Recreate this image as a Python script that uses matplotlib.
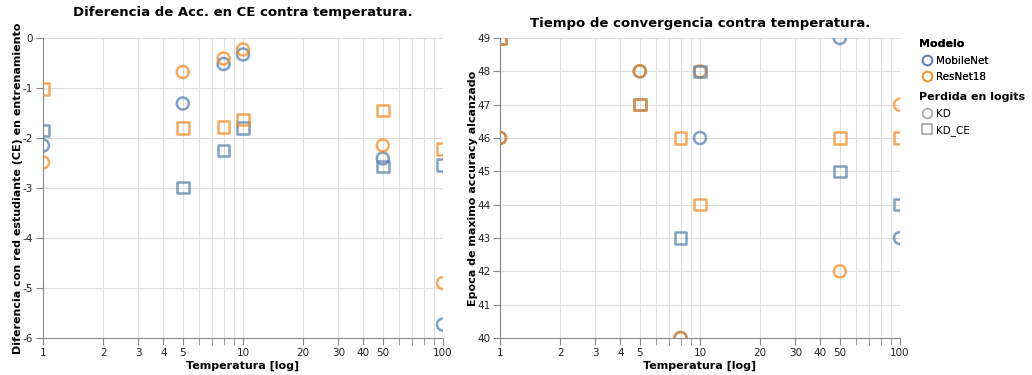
import matplotlib.pyplot as plt
from matplotlib.lines import Line2D
from matplotlib.ticker import FixedLocator, NullFormatter, FixedFormatter

temps = [1, 5, 8, 10, 50, 100]

# diferencia de accuracy (CE) contra temperatura
acc_mobilenet_kd = [-2.15, -1.31, -0.52, -0.33, -2.41, -5.73]
acc_resnet_kd = [-2.49, -0.68, -0.41, -0.23, -2.15, -4.9]
acc_mobilenet_kdce = [-1.85, -2.99, -2.25, -1.8, -2.57, -2.54]
acc_resnet_kdce = [-1.02, -1.8, -1.78, -1.63, -1.45, -2.22]

# epoca de maximo accuracy
ep_mobilenet_kd = [46, 48, 40, 46, 49, 43]
ep_resnet_kd = [46, 48, 40, 48, 42, 47]
ep_mobilenet_kdce = [49, 47, 43, 48, 45, 44]
ep_resnet_kdce = [49, 47, 46, 44, 46, 46]

blue = '#4c78a8'
orange = '#f58518'
W, H = 1032, 375

fig = plt.figure(figsize=(W / 100, H / 100), dpi=100)
plt.rcParams['font.family'] = 'DejaVu Sans'


def make_ax(x0):
    ax = fig.add_axes([x0 / W, (H - 338) / H, 400 / W, 300 / H])
    ax.set_xscale('log')
    ax.set_xlim(1, 100)
    major = [1, 2, 3, 4, 5, 10, 20, 30, 40, 50, 100]
    minor = [6, 7, 8, 9, 60, 70, 80, 90]
    ax.xaxis.set_major_locator(FixedLocator(major))
    ax.xaxis.set_major_formatter(FixedFormatter([str(v) for v in major]))
    ax.xaxis.set_minor_locator(FixedLocator(minor))
    ax.xaxis.set_minor_formatter(NullFormatter())
    ax.grid(True, which='both', color='#dddddd', linewidth=0.8)
    ax.set_axisbelow(True)
    for s in ['top', 'right']:
        ax.spines[s].set_visible(False)
    for s in ['left', 'bottom']:
        ax.spines[s].set_color('#888888')
    ax.tick_params(which='both', length=5, color='#888888', labelsize=7.5,
                   labelcolor='#222222', pad=2)
    ax.set_xlabel('Temperatura [log]', fontsize=8, fontweight='bold', labelpad=2)
    return ax


def scatter(ax, y, color, marker):
    sc = ax.scatter(temps, y, s=75 if marker == 'o' else 70, marker=marker,
                    facecolors='none', edgecolors=color, linewidths=1.8,
                    alpha=0.7, zorder=3, clip_on=True)
    sc.set_clip_path(ax.patch)


ax1 = make_ax(43)
ax1.set_ylim(-6, 0)
ax1.set_yticks(range(-6, 1))
ax1.set_yticklabels([str(v) for v in range(-6, 1)])
scatter(ax1, acc_mobilenet_kd, blue, 'o')
scatter(ax1, acc_resnet_kd, orange, 'o')
scatter(ax1, acc_mobilenet_kdce, blue, 's')
scatter(ax1, acc_resnet_kdce, orange, 's')
ax1.set_ylabel('Diferencia con red estudiante (CE) en entrenamiento',
               fontsize=8, fontweight='bold', labelpad=0)
ax1.set_title('Diferencia de Acc. en CE contra temperatura.', fontsize=9.5,
              fontweight='bold', pad=16)

ax2 = make_ax(500)
ax2.set_ylim(40, 49)
ax2.set_yticks(range(40, 50))
scatter(ax2, ep_mobilenet_kd, blue, 'o')
scatter(ax2, ep_resnet_kd, orange, 'o')
scatter(ax2, ep_mobilenet_kdce, blue, 's')
scatter(ax2, ep_resnet_kdce, orange, 's')
ax2.set_ylabel('Epoca de maximo accuracy alcanzado', fontsize=8,
               fontweight='bold', labelpad=-1)
ax2.set_title('Tiempo de convergencia contra temperatura.', fontsize=9.5,
              fontweight='bold', pad=8)

# leyendas
def handle(marker, color, label):
    return Line2D([], [], marker=marker, ls='none', mfc='none', mec=color,
                  mew=1.3, ms=7, alpha=0.7, label=label)


h_model = [handle('o', blue, 'MobileNet'), handle('o', orange, 'ResNet18')]
h_loss = [handle('o', '#888888', 'KD'), handle('s', '#888888', 'KD_CE')]
opts = dict(loc='upper left', frameon=False, fontsize=7.5,
            title_fontproperties={'weight': 'bold', 'size': 8},
            alignment='left', handletextpad=0.2, labelspacing=0.6,
            borderpad=0.2, handlelength=1.4)
leg1 = fig.legend(handles=h_model, title='Modelo',
                  bbox_to_anchor=(912 / W, 1 - 32 / H), **opts)
fig.add_artist(leg1)
fig.legend(handles=h_loss, title='Perdida en logits',
           bbox_to_anchor=(912 / W, 1 - 85 / H), **opts)

fig.savefig('out.png', dpi=100)
